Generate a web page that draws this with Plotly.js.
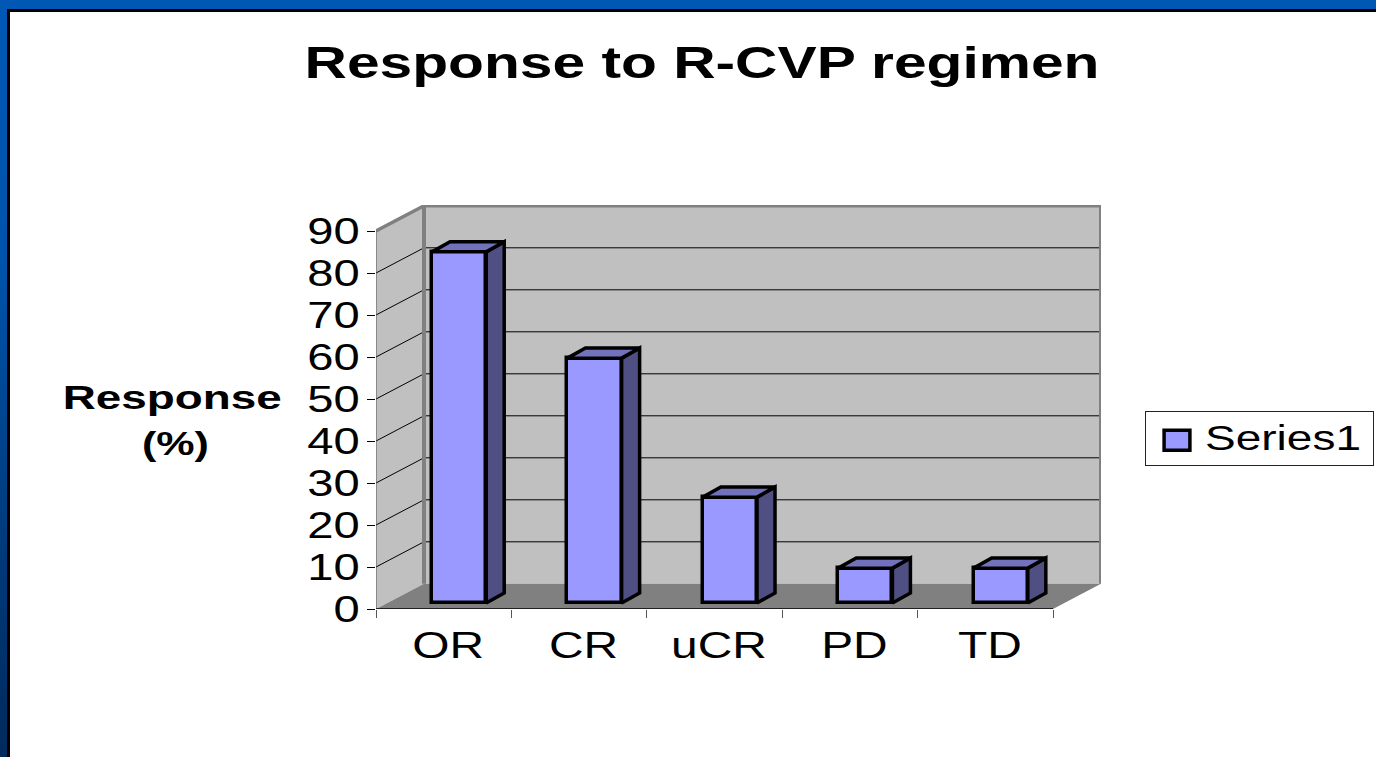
<!DOCTYPE html>
<html>
<head>
<meta charset="utf-8">
<script src="https://cdn.plot.ly/plotly-3.0.1.min.js"></script>
<style>
html,body{margin:0;padding:0;width:1376px;height:757px;overflow:hidden;
  background:linear-gradient(180deg,#0058b4 0%,#0053aa 35%,#003f84 65%,#002a5c 100%);}
#panel{position:absolute;left:7px;top:9px;width:1369px;height:748px;background:#fff;
  box-sizing:border-box;border-left:3px solid #000;border-top:3px solid #000;}
#chart{position:absolute;left:0;top:0;width:1376px;height:757px;}
</style>
</head>
<body>
<div id="panel"></div>
<div id="chart"></div>
<script>
var categories = ["OR", "CR", "uCR", "PD", "TD"];
var seriesName = "Series1";
var values = [83.6, 58.3, 25.2, 8.3, 8.3];
var yTicks = [0, 10, 20, 30, 40, 50, 60, 70, 80, 90];

var yMax = 90, depthX = 0.3545, depthY = 6, xLo = -0.5, xHi = 4.5;
var barLeft = -0.086, barW = 0.4, barBase = 1.43, sideX = 0.133, sideY = 2.4;

var shapes = [];
function poly(pts, fill){
  shapes.push({type:"path", xref:"x2", yref:"y", layer:"below",
    path:"M" + pts.map(function(p){return p[0]+","+p[1];}).join("L") + "Z",
    fillcolor:fill, line:{width:0}});
}
function seg(x0,y0,x1,y1,color,w){
  shapes.push({type:"line", xref:"x2", yref:"y", layer:"below",
    x0:x0,y0:y0,x1:x1,y1:y1, line:{color:color,width:w}});
}
poly([[xLo,0],[xLo+depthX,depthY],[xLo+depthX,yMax+depthY],[xLo,yMax]], "#c0c0c0");
poly([[xLo+depthX,depthY],[xHi+depthX,depthY],[xHi+depthX,yMax+depthY],[xLo+depthX,yMax+depthY]], "#c0c0c0");
poly([[xLo,0],[xLo+depthX,depthY],[xHi+depthX,depthY],[xHi,0]], "#808080");
yTicks.slice(1, -1).forEach(function(v){
  seg(xLo,v,xLo+depthX,v+depthY,"#000",1);
  seg(xLo+depthX,v+depthY,xHi+depthX,v+depthY,"#000",1);
});
seg(xLo,yMax,xLo+depthX,yMax+depthY,"#808080",3.5);
seg(xLo+depthX,yMax+depthY,xHi+depthX,yMax+depthY,"#808080",3.5);
seg(xLo+depthX,depthY,xLo+depthX,yMax+depthY,"#808080",4);
seg(xHi+depthX,depthY,xHi+depthX,yMax+depthY,"#808080",4);
seg(xLo,0,xLo,yMax,"#555",1);
seg(xLo,0,xHi,0,"#000",1.5);

var traces = [{
  type:"bar", name:seriesName, x:categories, y:values,
  base:barBase, offset:barLeft, width:barW,
  marker:{color:"#9999ff", line:{color:"#000", width:3.5}},
  showlegend:true, hoverinfo:"skip"
}];
values.forEach(function(v,i){
  var l = i + barLeft, r = l + barW, b = barBase, t = barBase + v;
  traces.push({type:"scatter", mode:"lines", xaxis:"x2", yaxis:"y", showlegend:false, hoverinfo:"skip",
    x:[r,r+sideX,r+sideX,r,r], y:[b,b+sideY,t+sideY,t,b], fill:"toself", fillcolor:"#4f4f83",
    line:{color:"#000",width:3.5}});
  traces.push({type:"scatter", mode:"lines", xaxis:"x2", yaxis:"y", showlegend:false, hoverinfo:"skip",
    x:[l,l+sideX,r+sideX,r,l], y:[t,t+sideY,t+sideY,t,t], fill:"toself", fillcolor:"#7272bc",
    line:{color:"#000",width:3.5}});
});

var SANS = "Liberation Sans, Arial, sans-serif";
var range = [xLo, xHi + depthX];
var layout = {
  width:1376, height:757, autosize:false,
  paper_bgcolor:"rgba(0,0,0,0)", plot_bgcolor:"rgba(0,0,0,0)",
  margin:{l:376, r:275, t:205, b:148, pad:0},
  font:{family:SANS, color:"#000"},
  title:{text:"Response to R-CVP regimen", font:{family:SANS, size:45, color:"#000", weight:"bold"},
    x:(702-376)/725, xanchor:"center", xref:"paper", y:1-62.5/757, yanchor:"middle"},
  bargap:0,
  xaxis:{type:"category", range:range, categoryorder:"array", categoryarray:categories,
    tickson:"boundaries", ticks:"outside", ticklen:8, tickcolor:"#555", tickwidth:1, ticklabelstandoff:12,
    showgrid:false, zeroline:false, showline:false, tickfont:{family:SANS,size:36,color:"#000"}, automargin:false},
  xaxis2:{type:"linear", overlaying:"x", range:range, visible:false, fixedrange:true},
  yaxis:{range:[0, 96.19], tickmode:"array", tickvals:yTicks, ticktext:yTicks.map(String),
    ticks:"outside", ticklen:8, tickcolor:"#000", tickwidth:1, showgrid:false, zeroline:false, showline:false,
    tickfont:{family:SANS,size:36,color:"#000"}, automargin:false},
  shapes:shapes,
  legend:{x:(1145-376)/725, y:(609-411)/404, xanchor:"left", yanchor:"top", bgcolor:"#fff",
    bordercolor:"#222", borderwidth:1, font:{family:SANS,size:35,color:"#000"}, itemwidth:49,
    itemclick:false, itemdoubleclick:false},
  annotations:[
    {text:"<b>Response</b>", xref:"paper", yref:"paper", x:(172.5-376)/725, y:(609-397)/404,
     xanchor:"center", yanchor:"middle", showarrow:false, font:{family:SANS,size:34,color:"#000"}},
    {text:"<b>(%)</b>", xref:"paper", yref:"paper", x:(175.5-376)/725, y:(609-443)/404,
     xanchor:"center", yanchor:"middle", showarrow:false, font:{family:SANS,size:34,color:"#000"}}
  ]
};

function stretch(sel, ratio, target){
  document.querySelectorAll(sel).forEach(function(t){
    var w = t.getComputedTextLength();
    t.setAttribute("lengthAdjust","spacingAndGlyphs");
    t.setAttribute("textLength", target ? target : w*ratio);
  });
}
Plotly.newPlot("chart", traces, layout, {displayModeBar:false}).then(function(){
  stretch(".gtitle", 1, 795);
  stretch(".xtick text", 1.33);
  stretch(".ytick text", 1.31);
  stretch(".legendtext", 1, 156);
  document.querySelectorAll(".xtick text").forEach(function(t){
    t.setAttribute("x", parseFloat(t.getAttribute("x")) + 4.5);
  });
  document.querySelectorAll(".legendtext").forEach(function(t){
    t.setAttribute("transform","translate(0,-5)");
  });
  var ann = document.querySelectorAll(".annotation-text");
  if (ann[0]) { ann[0].setAttribute("lengthAdjust","spacingAndGlyphs"); ann[0].setAttribute("textLength",219); }
  if (ann[1]) { ann[1].setAttribute("lengthAdjust","spacingAndGlyphs"); ann[1].setAttribute("textLength",67); }
  document.querySelectorAll(".legendpoints path").forEach(function(p){
    p.setAttribute("transform","translate(31,-1) scale(2.15,1.67)");
    p.style.vectorEffect = "non-scaling-stroke";
  });
  var bg = document.querySelector(".legend rect.bg");
  if (bg) { bg.setAttribute("width",228); bg.setAttribute("height",54); }
  var sb = document.querySelector(".legend .scrollbox");
  if (sb) { sb.removeAttribute("clip-path"); sb.style.clipPath = "none"; }
});
</script>
</body>
</html>
